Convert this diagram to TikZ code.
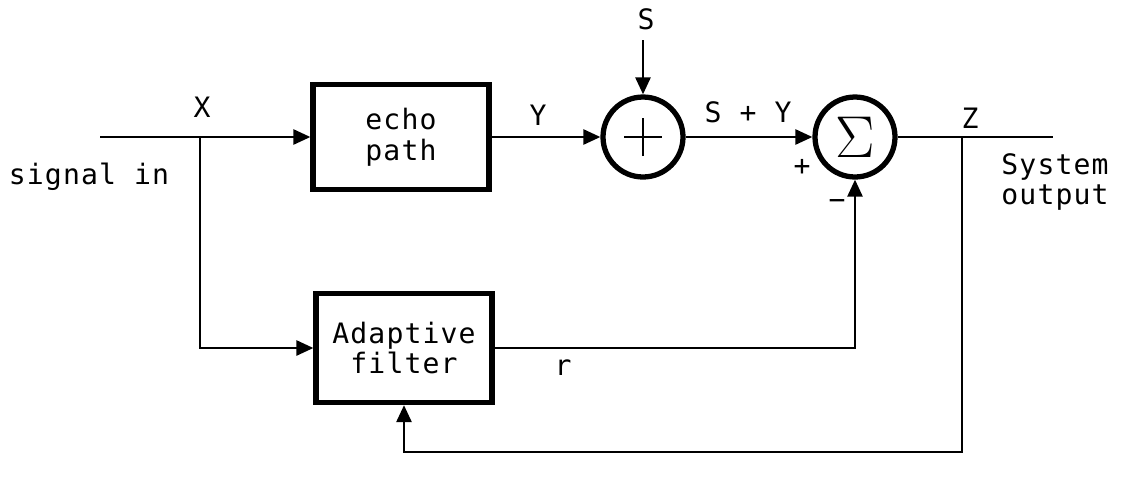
\documentclass[tikz,border=0pt]{standalone}
\usepackage{fontspec}
\setmonofont[LetterSpace=4]{DejaVu Sans Mono}
\usetikzlibrary{arrows.meta,positioning,calc}

\begin{document}
\begin{tikzpicture}[x=0.02cm,y=-0.02cm,
      font=\ttfamily\fontsize{16}{17.5}\selectfont,
      block/.style={draw,line width=3pt,minimum width=3.52cm,minimum height=2.1cm,align=center,inner sep=0pt},
      sumnode/.style={draw,circle,line width=3pt,minimum size=1.6cm,inner sep=0pt},
      crossed/.style={path picture={
          \draw[line width=1.5pt] ($(path picture bounding box.center)+(-0.38cm,0pt)$) -- ($(path picture bounding box.center)+(0.38cm,0pt)$);
          \draw[line width=1.5pt] ($(path picture bounding box.center)+(0pt,-0.38cm)$) -- ($(path picture bounding box.center)+(0pt,0.38cm)$);
        }},
      sig/.style={line width=1.5pt},
      arr/.style={sig,-{Triangle[length=0.34cm,width=0.3cm]}},
    ]
    \useasboundingbox (0,0) rectangle (1121,481);
    % blocks
    \node[block] (echo) at (401,137) {echo\\path};
    \node[block,minimum height=2.18cm] (adapt) at (404,348) {Adaptive\\filter};
    \node[sumnode,crossed] (plus) at (643,137) {};
    \node[sumnode] (sum) at (855,137) {\scalebox{1.35}{\Huge$\Sigma$}};
    % free ends and branch points
    \coordinate (in) at (100,137);
    \coordinate (xsplit) at (200,137);
    \coordinate (sin) at (643,40);
    \coordinate (out) at (1053,137);
    \coordinate (zsplit) at (962,137);
    \coordinate (fb) at (962,452);
    % connectors
    \draw[arr] (in) -- (echo);
    \draw[arr] (xsplit) |- (adapt.west);
    \draw[arr] (echo) -- (plus);
    \draw[arr] (sin) -- (plus);
    \draw[arr] (plus) -- (sum);
    \draw[arr] (adapt) -| (sum);
    \draw[sig] (sum) -- (out);
    \draw[arr] (zsplit) -- (fb) -| (adapt.south);
    % labels
    \node (xlab) at (202,107) {X};
    \node (siglab) at (89,177) {signal in};
    \node (ylab) at (538,115) {Y};
    \node (slab) at (646,19) {S};
    \node (sylab) at (748,112) {S + Y};
    \node (pluslab) at (802,167) {+};
    \node (minuslab) at (837,205) {−};
    \node (zlab) at (970,118) {Z};
    \node (rlab) at (563,368) {r};
    \node[align=left] (outlab) at (1055,182) {System\\output};
  \end{tikzpicture}
\end{document}
